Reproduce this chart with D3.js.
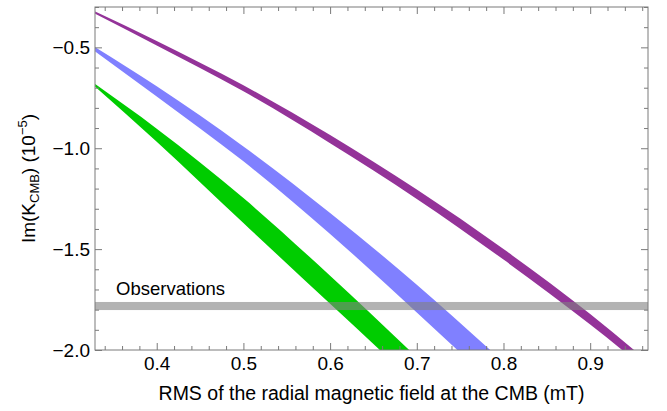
<!DOCTYPE html>
<html>
<head>
<meta charset="utf-8">
<script src="https://cdn.jsdelivr.net/npm/d3@7"></script>
<style>
  body { margin: 0; background: #fff; }
  svg { display: block; font-family: "Liberation Sans", Arial, Helvetica, sans-serif; }
</style>
</head>
<body>
<script>
// values (x = RMS field in mT, y = Im(K_CMB) in 1e-5)
const purpleX  = [0.329, 0.4, 0.5, 0.6, 0.7, 0.8, 0.9, 0.97]
const purpleHi = [-0.322, -0.468, -0.688, -0.935, -1.205, -1.500, -1.822, -2.070]
const purpleLo = [-0.334, -0.491, -0.718, -0.975, -1.251, -1.552, -1.874, -2.116]

const blueX  = [0.329, 0.4, 0.5, 0.6, 0.7, 0.8]
const blueHi = [-0.499, -0.693, -0.991, -1.321, -1.676, -2.060]
const blueLo = [-0.520, -0.743, -1.065, -1.425, -1.814, -2.214]

const greenX  = [0.329, 0.4, 0.5, 0.6, 0.7]
const greenHi = [-0.682, -0.903, -1.247, -1.632, -2.036]
const greenLo = [-0.695, -0.968, -1.371, -1.771, -2.170]

const observed = [-1.762, -1.802]

const xMajor = [0.4, 0.5, 0.6, 0.7, 0.8, 0.9]
const yMajor = [-2.0, -1.5, -1.0, -0.5]

let width = 667
let height = 411
let margin = {left: 95, right: 19, top: 7, bottom: 61}

const svg = d3.select("body")
    .append("svg")
    .attr("width", width)
    .attr("height", height)

const x = d3.scaleLinear()
    .domain([0.3288, 0.9667])
    .range([margin.left, width - margin.right])

const y = d3.scaleLinear()
    .domain([-2.0, -0.3])
    .range([height - margin.bottom, margin.top])

svg.append("defs")
    .append("clipPath")
    .attr("id", "plot-frame")
    .append("rect")
    .attr("x", x.range()[0])
    .attr("y", y.range()[1])
    .attr("width", x.range()[1] - x.range()[0])
    .attr("height", y.range()[0] - y.range()[1])

const bands = [
  {xs: purpleX, hi: purpleHi, lo: purpleLo, color: "#943399"},
  {xs: blueX, hi: blueHi, lo: blueLo, color: "#8080ff"},
  {xs: greenX, hi: greenHi, lo: greenLo, color: "#00cc00"}
]

const area = d3.area()
    .x(d => x(d.x))
    .y0(d => y(d.lo))
    .y1(d => y(d.hi))
    .curve(d3.curveMonotoneX)

const plot = svg.append("g")
    .attr("clip-path", "url(#plot-frame)")

plot.selectAll("path.band")
    .data(bands)
    .join("path")
      .attr("class", "band")
      .attr("fill", d => d.color)
      .attr("d", d => area(d.xs.map((v, i) => ({x: v, hi: d.hi[i], lo: d.lo[i]}))))

// observation band sits on top, semi transparent
plot.append("rect")
    .attr("x", x.range()[0])
    .attr("width", x.range()[1] - x.range()[0])
    .attr("y", y(observed[0]))
    .attr("height", y(observed[1]) - y(observed[0]))
    .attr("fill", "#808080")
    .attr("fill-opacity", 0.6)

svg.append("text")
    .attr("x", 116)
    .attr("y", y(observed[0]) - 7)
    .attr("font-size", "18.5px")
    .attr("fill", "#000")
    .text("Observations")

// frame with inward ticks on all four sides
let frameColor = "#7a7a7a"
let fmt = d => d3.format(".1f")(d).replace("-", "\u2212")

let xMinor = d3.range(0.34, 0.965, 0.02).filter(v => !xMajor.some(m => Math.abs(m - v) < 1e-6))
let yMinor = d3.range(-1.9, -0.29, 0.1).filter(v => !yMajor.some(m => Math.abs(m - v) < 1e-6))

function addAxis (axis, transform, minor, major, labels) {
  let g = svg.append("g").attr("transform", transform)
  g.call(axis.tickValues(minor).tickSize(-4).tickFormat(""))
  let g2 = svg.append("g").attr("transform", transform)
  g2.call(axis.tickValues(major).tickSize(-7).tickPadding(10).tickFormat(labels ? fmt : ""))
  for (let s of [g, g2]) {
    s.select(".domain").remove()
    s.selectAll(".tick line").attr("stroke", frameColor)
    s.selectAll(".tick text")
        .attr("fill", "#000")
        .attr("font-size", "19px")
        .attr("font-family", "Liberation Sans, Arial, sans-serif")
  }
  return g2
}

let xb = addAxis(d3.axisBottom(x), `translate(0,${y.range()[0]})`, xMinor, xMajor, true)
xb.selectAll(".tick text").attr("dy", "0.71em").attr("y", 7)
addAxis(d3.axisTop(x), `translate(0,${y.range()[1]})`, xMinor, xMajor, false)
let yl = addAxis(d3.axisLeft(y), `translate(${x.range()[0]},0)`, yMinor, yMajor, true)
yl.selectAll(".tick text").attr("x", -5)
addAxis(d3.axisRight(y), `translate(${x.range()[1]},0)`, yMinor, yMajor, false)

svg.append("rect")
    .attr("x", x.range()[0])
    .attr("y", y.range()[1])
    .attr("width", x.range()[1] - x.range()[0])
    .attr("height", y.range()[0] - y.range()[1])
    .attr("fill", "none")
    .attr("stroke", frameColor)
    .attr("stroke-width", 1)

// axis labels
svg.append("text")
    .attr("x", (x.range()[0] + x.range()[1]) / 2)
    .attr("y", 400)
    .attr("text-anchor", "middle")
    .attr("font-size", "19.5px")
    .text("RMS of the radial magnetic field at the CMB (mT)")

let ylab = svg.append("text")
    .attr("transform", `translate(35,${(y.range()[0] + y.range()[1]) / 2}) rotate(-90)`)
    .attr("text-anchor", "middle")
    .attr("font-size", "19px")
ylab.append("tspan").text("Im(K")
ylab.append("tspan").attr("font-size", "13px").attr("dy", 4).text("CMB")
ylab.append("tspan").attr("dy", -4).text(") (10")
ylab.append("tspan").attr("font-size", "13px").attr("dy", -8).text("\u22125")
ylab.append("tspan").attr("dy", 8).text(")")
</script>
</body>
</html>
